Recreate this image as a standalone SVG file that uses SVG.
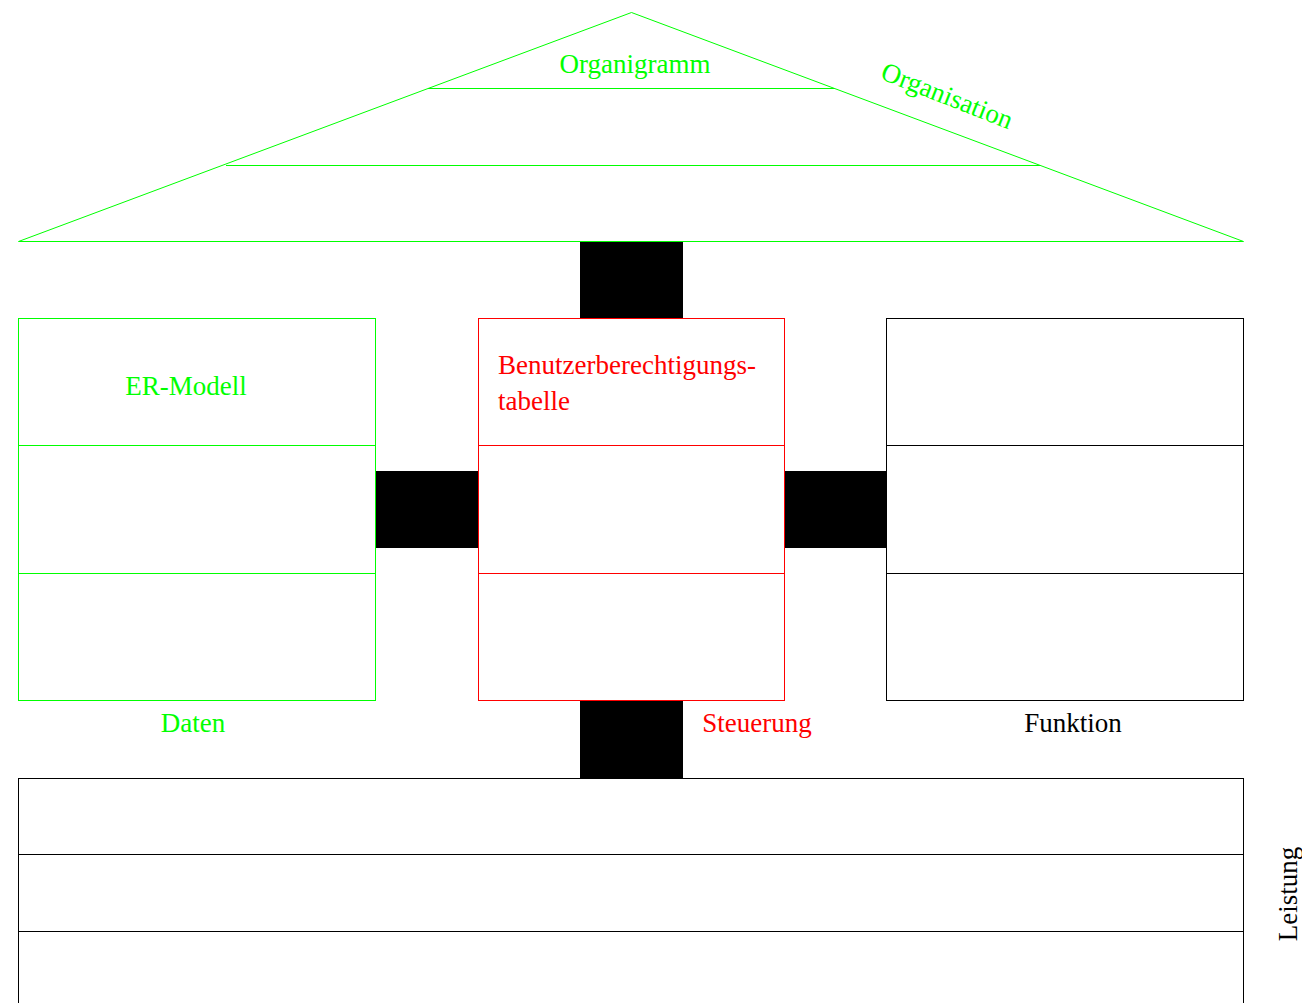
<svg xmlns="http://www.w3.org/2000/svg" width="1302" height="1003" viewBox="0 0 1302 1003">
  <style>
    .lbl { font-family: "Liberation Serif", "Times New Roman", serif; font-size: 27px; }
    .g { stroke: #00ff00; fill: none; stroke-width: 1; }
    .r { stroke: #ff0000; fill: none; stroke-width: 1; }
    .k { stroke: #000000; fill: none; stroke-width: 1; }
    .tg { fill: #00ff00; }
    .tr { fill: #ff0000; }
    .tk { fill: #000000; }
    .bar { fill: #000000; }
  </style>
  <rect width="1302" height="1003" fill="#ffffff"/>

  <!-- connecting black bars -->
  <g id="connectors">
    <rect class="bar" x="580" y="241" width="103" height="77"/>
    <rect class="bar" x="375.5" y="471" width="102.5" height="77"/>
    <rect class="bar" x="784.5" y="471" width="102" height="77"/>
    <rect class="bar" x="580" y="701" width="103" height="77"/>
  </g>

  <!-- roof: Organisation -->
  <g id="organisation">
    <polygon class="g" points="18.5,241.5 631.5,12.5 1243.5,241.5"/>
    <line class="g" x1="428" y1="88.5" x2="834" y2="88.5"/>
    <line class="g" x1="226" y1="165.5" x2="1040" y2="165.5"/>
    <text class="lbl tg" x="635" y="73" text-anchor="middle">Organigramm</text>
    <text class="lbl tg" text-anchor="middle" transform="translate(944,104) rotate(21.5)">Organisation</text>
  </g>

  <!-- left pillar: Daten -->
  <g id="daten">
    <rect class="g" x="18.5" y="318.5" width="357" height="382"/>
    <line class="g" x1="18.5" y1="445.5" x2="375.5" y2="445.5"/>
    <line class="g" x1="18.5" y1="573.5" x2="375.5" y2="573.5"/>
    <text class="lbl tg" x="186" y="395" text-anchor="middle">ER-Modell</text>
    <text class="lbl tg" x="193" y="732" text-anchor="middle">Daten</text>
  </g>

  <!-- middle pillar: Steuerung -->
  <g id="steuerung">
    <rect class="r" x="478.5" y="318.5" width="306" height="382"/>
    <line class="r" x1="478.5" y1="445.5" x2="784.5" y2="445.5"/>
    <line class="r" x1="478.5" y1="573.5" x2="784.5" y2="573.5"/>
    <text class="lbl tr" x="498" y="374">Benutzerberechtigungs-</text>
    <text class="lbl tr" x="498" y="410">tabelle</text>
    <text class="lbl tr" x="757" y="732" text-anchor="middle">Steuerung</text>
  </g>

  <!-- right pillar: Funktion -->
  <g id="funktion">
    <rect class="k" x="886.5" y="318.5" width="357" height="382"/>
    <line class="k" x1="886.5" y1="445.5" x2="1243.5" y2="445.5"/>
    <line class="k" x1="886.5" y1="573.5" x2="1243.5" y2="573.5"/>
    <text class="lbl tk" x="1073" y="732" text-anchor="middle">Funktion</text>
  </g>

  <!-- foundation: Leistung -->
  <g id="leistung">
    <rect class="k" x="18.5" y="778.5" width="1225" height="240"/>
    <line class="k" x1="18.5" y1="854.5" x2="1243.5" y2="854.5"/>
    <line class="k" x1="18.5" y1="931.5" x2="1243.5" y2="931.5"/>
    <text class="lbl tk" text-anchor="middle" transform="translate(1297,894) rotate(-90)">Leistung</text>
  </g>
</svg>
